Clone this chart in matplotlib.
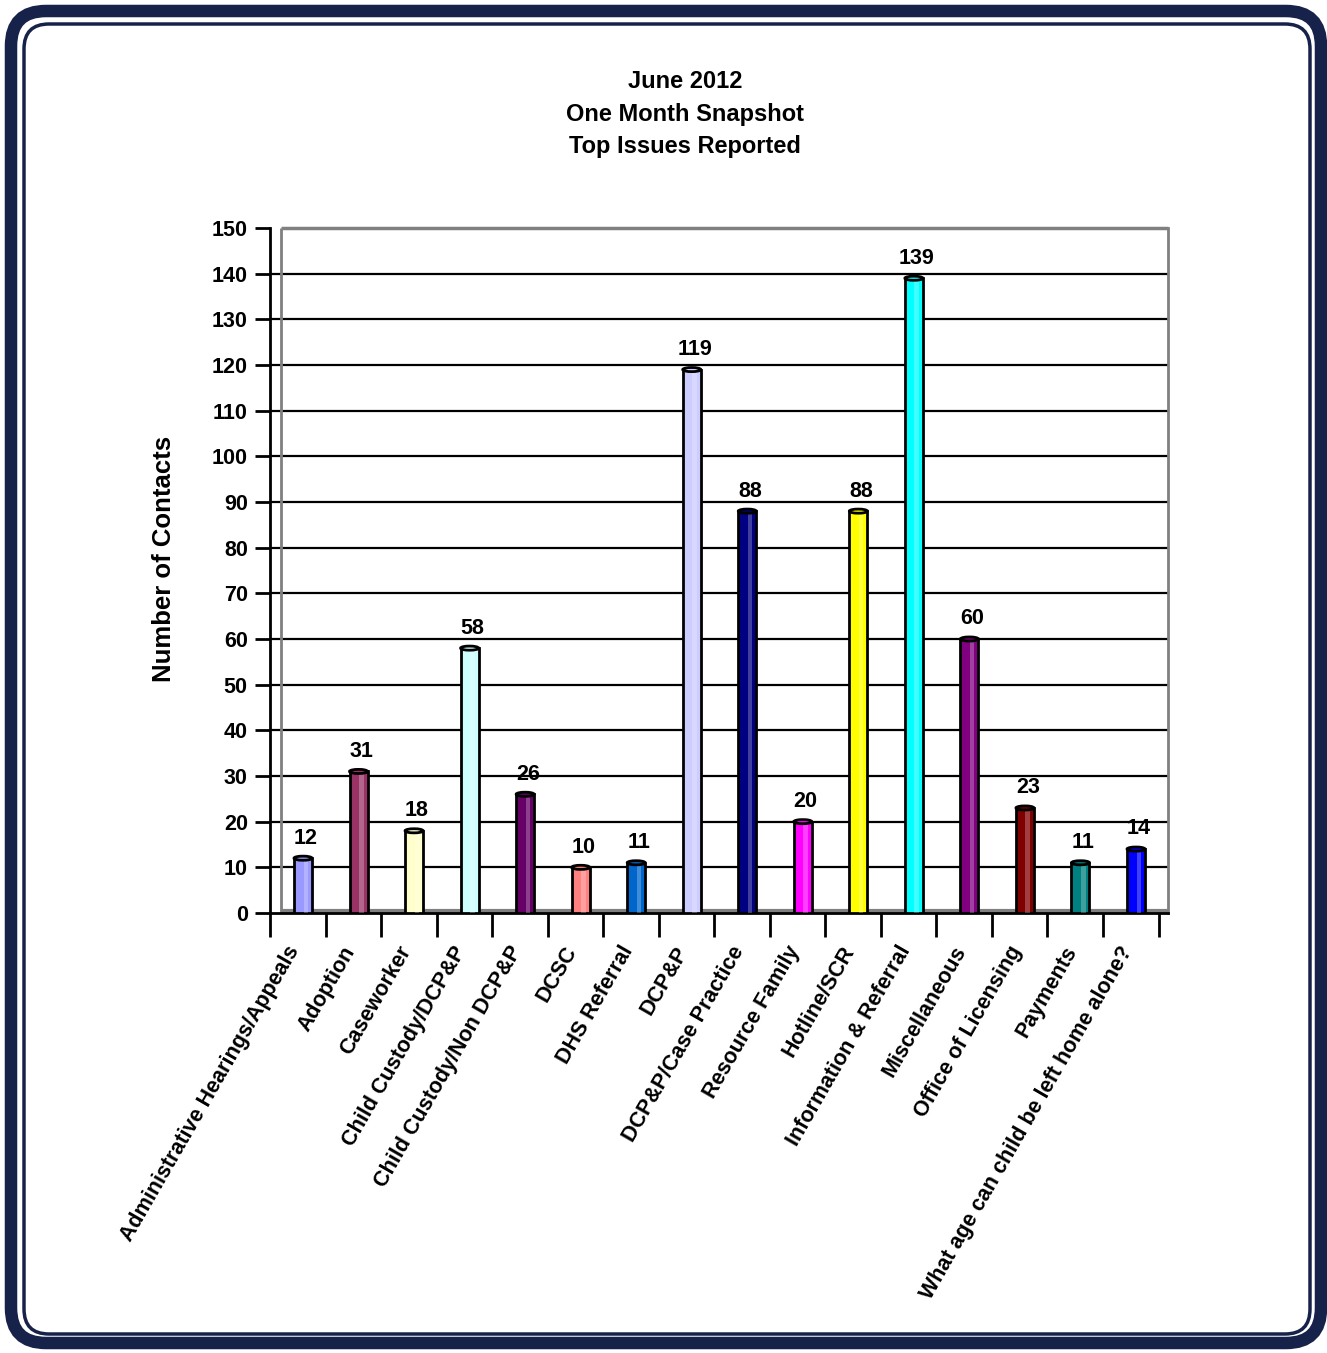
import numpy as np
import matplotlib.pyplot as plt
from matplotlib.patches import Ellipse, FancyBboxPatch
from matplotlib.transforms import ScaledTranslation

plt.rcParams['font.family'] = ['Liberation Sans', 'DejaVu Sans']
plt.rcParams['font.weight'] = 'bold'

# Data
categories = ["Administrative Hearings/Appeals", "Adoption", "Caseworker",
              "Child Custody/DCP&P", "Child Custody/Non DCP&P", "DCSC",
              "DHS Referral", "DCP&P", "DCP&P/Case Practice", "Resource Family",
              "Hotline/SCR", "Information & Referral", "Miscellaneous",
              "Office of Licensing", "Payments", "What age can child be left home alone?"]
contacts = [12, 31, 18, 58, 26, 10, 11, 119, 88, 20, 88, 139, 60, 23, 11, 14]
bar_colors = ["#9999FF", "#993366", "#FFFFCC", "#CCFFFF", "#660066", "#FF8080",
              "#0066CC", "#CCCCFF", "#000080", "#FF00FF", "#FFFF00", "#00FFFF",
              "#800080", "#800000", "#008080", "#0000FF"]
y_ticks = list(range(0, 151, 10))

fig = plt.figure(figsize=(13.27, 13.53), dpi=100)
ax = fig.add_axes([270 / 1327, 1 - 913 / 1353, 898 / 1327, 685 / 1353])

x = np.arange(len(categories))
w = 0.324
x_lo, x_hi = -0.594, 15.576
wall = -0.396  # back wall, a little behind the front axis line

ax.bar(x, contacts, width=w, color=bar_colors, edgecolor="black", linewidth=2, zorder=3)
# light stripe for a bit of cylinder look
ax.bar(x + 0.05, contacts, width=w * 0.25, color="white", alpha=0.25, linewidth=0, zorder=4)
for xi, v, c in zip(x, contacts, bar_colors):
    ax.add_patch(Ellipse((xi, v), w, 0.9, facecolor=c, edgecolor="black", lw=2, zorder=5))
    ax.text(xi + 0.05, v + 4.4, str(v), ha="center", va="center", fontsize=15.5,
            fontweight="bold", zorder=6)

# gridlines and back wall
for t in y_ticks[1:-1]:
    ax.axhline(t, color="black", lw=1.6, zorder=1)
ax.hlines(150, wall, x_hi, color="#808080", lw=2.5, zorder=1, clip_on=False)
ax.vlines(wall, 0, 150, color="#808080", lw=2, zorder=1)
ax.hlines(0.4, wall, x_hi, color="#808080", lw=3, zorder=2)

ax.spines["left"].set_linewidth(2)
ax.spines["bottom"].set_linewidth(2)
ax.spines["top"].set_visible(False)
ax.spines["right"].set_color("#808080")
ax.spines["right"].set_linewidth(2)

ax.set_yticks(y_ticks)
ax.tick_params(axis="y", length=11, width=2, labelsize=15.5, pad=5)

ax.set_xticks(x)
ax.set_xticklabels(categories, rotation=60, ha="right", va="center", rotation_mode="anchor",
                   fontsize=15.5, fontweight="bold")
ax.tick_params(axis="x", which="major", length=0, pad=25)
shift = ScaledTranslation(-8 / 100, 0, fig.dpi_scale_trans)
for lab in ax.get_xticklabels():
    lab.set_transform(lab.get_transform() + shift)
ax.set_xticks(np.arange(len(categories) + 1) + x_lo, minor=True)
ax.tick_params(axis="x", which="minor", length=17, width=2, color="black")

ax.set_xlim(x_lo, x_hi)
ax.set_ylim(0, 150)

ax.set_ylabel("Number of Contacts", fontsize=18.5, fontweight="bold")
ax.yaxis.set_label_coords(-0.105, 0.517)

fig.text(685 / 1327, 1 - 114 / 1353, "June 2012\nOne Month Snapshot\nTop Issues Reported",
         ha="center", va="center", fontsize=17, fontweight="bold", linespacing=1.55)

# frame
navy = "#17224a"
fig.patches.append(FancyBboxPatch((0.11, 0.10), 13.10, 13.32,
                                  boxstyle="round,pad=0,rounding_size=0.35",
                                  transform=fig.dpi_scale_trans, fill=False,
                                  edgecolor=navy, lw=9))
fig.patches.append(FancyBboxPatch((0.24, 0.19), 12.86, 13.10,
                                  boxstyle="round,pad=0,rounding_size=0.25",
                                  transform=fig.dpi_scale_trans, fill=False,
                                  edgecolor=navy, lw=2.5))

fig.savefig("out.png", dpi=100)
